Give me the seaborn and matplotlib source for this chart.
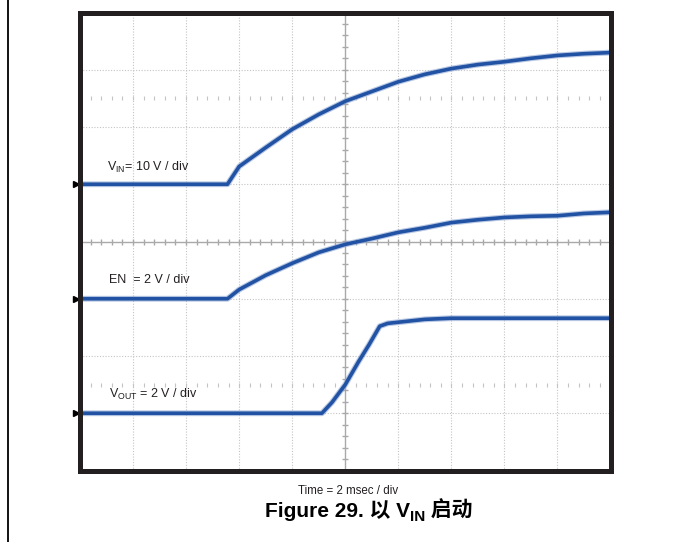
import numpy as np
import pandas as pd
import matplotlib.pyplot as plt
import seaborn as sns
from matplotlib.lines import Line2D

# scope captures (time in ms, 2 ms/div)
vin_time_ms = [0, 5.56, 6, 7, 8, 9, 10, 11, 12, 13, 14, 15, 16, 17, 18, 19, 20]
vin_volts = [0, 0, 3.1, 6.4, 9.6, 12.2, 14.5, 16.2, 17.9, 19.2, 20.2, 20.9, 21.4, 22.0, 22.5, 22.8, 23.0]

en_time_ms = [0, 5.56, 6, 7, 8, 9, 10, 11, 12, 13, 14, 15, 16, 17, 18, 19, 20]
en_volts = [0, 0, 0.32, 0.82, 1.24, 1.62, 1.90, 2.10, 2.32, 2.48, 2.66, 2.76, 2.84, 2.88, 2.90, 2.98, 3.02]

vout_time_ms = [0, 9.12, 9.5, 10.0, 10.5, 10.9, 11.3, 11.6, 12.0, 13.0, 14.0, 20]
vout_volts = [0, 0, 0.38, 1.0, 1.8, 2.4, 3.04, 3.14, 3.18, 3.28, 3.32, 3.32]

# channel settings: V/div and ground level in divisions from centre
channels = {
    "VIN": (vin_time_ms, vin_volts, 10, 1.0),
    "EN": (en_time_ms, en_volts, 2, -1.0),
    "VOUT": (vout_time_ms, vout_volts, 2, -3.0),
}
ms_per_div = 2

BLUE = "#2152a3"
GRID = "#c4c4c4"
CENTER = "#a9a9a9"

sns.set_style("white")
plt.rcParams["font.family"] = ["Liberation Sans Narrow", "Liberation Sans", "DejaVu Sans"]

fig = plt.figure(figsize=(6.73, 5.42), dpi=100)
ax = fig.add_axes([80 / 673, 1 - 470.5 / 542, 530.5 / 673, 458 / 542])

# graticule
for xv in range(1, 10):
    if xv != 5:
        ax.axvline(xv, color=GRID, lw=0.8, ls=(0, (1, 1.5)), zorder=1)
for yv in range(-3, 4):
    if yv != 0:
        ax.axhline(yv, color=GRID, lw=0.8, ls=(0, (1, 1.5)), zorder=1)
ax.axhline(0, color=CENTER, lw=1.0, zorder=1)
ax.axvline(5, color=CENTER, lw=1.0, zorder=1)
minor_x = np.arange(0, 10.01, 0.2)
minor_y = np.arange(-4, 4.01, 0.2)
ax.plot(minor_x, np.zeros_like(minor_x), ls="none", marker="|", ms=4.5, mew=1, color=CENTER, zorder=1)
ax.plot(np.full_like(minor_y, 5), minor_y, ls="none", marker="_", ms=4.5, mew=1, color=CENTER, zorder=1)
for yv in (2.5, -2.5):
    ax.plot(minor_x[1:-1], np.full(len(minor_x) - 2, yv), ls="none", marker="|", ms=2.5, mew=0.8,
            color=GRID, zorder=1)

# traces
for name, (t, v, scale, offset) in channels.items():
    df = pd.DataFrame({"div_x": np.array(t) / ms_per_div, "div_y": np.array(v) / scale + offset})
    sns.lineplot(data=df, x="div_x", y="div_y", color="#8aa4d2", lw=4.2, alpha=0.6, ax=ax,
                 sort=False, estimator=None, zorder=2)
    sns.lineplot(data=df, x="div_x", y="div_y", color=BLUE, lw=2.6, ax=ax,
                 sort=False, estimator=None, zorder=3)
    ax.plot(-0.08, offset, marker=">", ms=4.5, color="black", clip_on=False, zorder=5)

ax.set_xlim(0, 10)
ax.set_ylim(-4, 4)
ax.set_xticks([])
ax.set_yticks([])
ax.set_xlabel("")
ax.set_ylabel("")
for sp in ax.spines.values():
    sp.set_linewidth(3.6)
    sp.set_color("#231f20")
    sp.set_zorder(6)

# channel labels
ax.text(0.5, 1.24, r"V$_{\mathregular{IN}}$= 10 V / div", fontsize=9, va="baseline", color="#231f20")
ax.text(0.55, -0.72, "EN  = 2 V / div", fontsize=9, va="baseline", color="#231f20")
ax.text(0.55, -2.74, r"V$_{\mathregular{OUT}}$ = 2 V / div", fontsize=9, va="baseline", color="#231f20")

fig.text(348 / 673, 1 - 494 / 542, "Time = 2 msec / div", fontsize=8.3, ha="center", va="baseline",
         color="#231f20")

# caption, pieced together so the CJK font can stand in
title_font = dict(family=["Liberation Sans", "Noto Sans CJK SC"], weight="bold", color="black")
t1 = fig.text(265 / 673, 1 - 517 / 542, "Figure 29. 以 V", fontsize=15, va="baseline", **title_font)
t2 = ax.annotate("IN", xy=(1, 0), xycoords=t1, xytext=(0, -2), textcoords="offset points",
                 va="bottom", fontsize=11, annotation_clip=False, **title_font)
t3 = ax.annotate(" 启动", xy=(1, 0), xycoords=t2, xytext=(0, 2), textcoords="offset points",
                 va="bottom", fontsize=15, annotation_clip=False, **title_font)

# page edge on the left
fig.add_artist(Line2D([8 / 673, 8 / 673], [0, 1], color="black", lw=1.3))

fig.savefig("out.png", dpi=100)
